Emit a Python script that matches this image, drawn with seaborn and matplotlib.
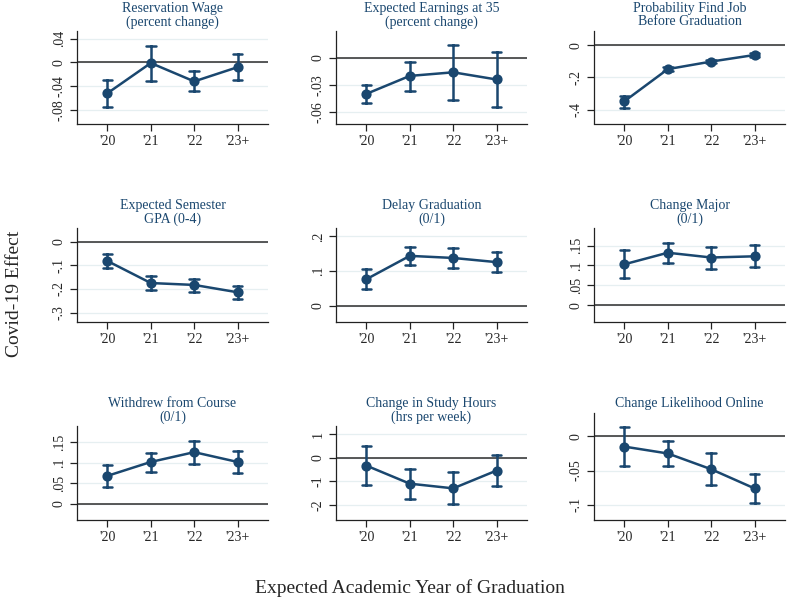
import matplotlib
matplotlib.use("Agg")
import matplotlib.pyplot as plt
import seaborn as sns
import pandas as pd

# x categories
years = ["'20", "'21", "'22", "'23+"]

# panel titles
titles = [
    "Reservation Wage\n(percent change)",
    "Expected Earnings at 35\n(percent change)",
    "Probability Find Job\nBefore Graduation",
    "Expected Semester\nGPA (0-4)",
    "Delay Graduation\n(0/1)",
    "Change Major\n(0/1)",
    "Withdrew from Course\n(0/1)",
    "Change in Study Hours\n(hrs per week)",
    "Change Likelihood Online",
]

# point estimates and 95% CI bounds
wage_est = [-0.052, -0.001, -0.032, -0.008]
wage_lo = [-0.076, -0.031, -0.049, -0.030]
wage_hi = [-0.029, 0.027, -0.015, 0.014]

earn_est = [-0.040, -0.020, -0.016, -0.024]
earn_lo = [-0.050, -0.037, -0.047, -0.055]
earn_hi = [-0.030, -0.004, 0.014, 0.007]

job_est = [-0.349, -0.149, -0.102, -0.061]
job_lo = [-0.389, -0.162, -0.113, -0.071]
job_hi = [-0.314, -0.137, -0.092, -0.051]

gpa_est = [-0.082, -0.175, -0.183, -0.214]
gpa_lo = [-0.110, -0.203, -0.211, -0.242]
gpa_hi = [-0.053, -0.146, -0.156, -0.186]

delay_est = [0.077, 0.144, 0.138, 0.126]
delay_lo = [0.048, 0.117, 0.109, 0.098]
delay_hi = [0.105, 0.170, 0.167, 0.154]

major_est = [0.103, 0.132, 0.120, 0.123]
major_lo = [0.069, 0.106, 0.092, 0.095]
major_hi = [0.138, 0.157, 0.147, 0.152]

withdrew_est = [0.068, 0.102, 0.126, 0.102]
withdrew_lo = [0.040, 0.078, 0.098, 0.075]
withdrew_hi = [0.095, 0.125, 0.153, 0.128]

hours_est = [-0.33, -1.10, -1.30, -0.54]
hours_lo = [-1.17, -1.75, -1.98, -1.22]
hours_hi = [0.51, -0.47, -0.61, 0.14]

online_est = [-0.015, -0.025, -0.048, -0.076]
online_lo = [-0.043, -0.043, -0.071, -0.097]
online_hi = [0.013, -0.007, -0.024, -0.055]

# y ticks and labels per panel
yticks = [
    [-0.08, -0.04, 0, 0.04],
    [-0.06, -0.03, 0],
    [-0.4, -0.2, 0],
    [-0.3, -0.2, -0.1, 0],
    [0, 0.1, 0.2],
    [0, 0.05, 0.1, 0.15],
    [0, 0.05, 0.1, 0.15],
    [-2, -1, 0, 1],
    [-0.1, -0.05, 0],
]
ytick_labels = [
    ["-.08", "-.04", "0", ".04"],
    ["-.06", "-.03", "0"],
    ["-.4", "-.2", "0"],
    ["-.3", "-.2", "-.1", "0"],
    ["0", ".1", ".2"],
    ["0", ".05", ".1", ".15"],
    ["0", ".05", ".1", ".15"],
    ["-2", "-1", "0", "1"],
    ["-.1", "-.05", "0"],
]
ylims = [
    (-0.103, 0.053), (-0.073, 0.030), (-0.487, 0.088),
    (-0.338, 0.057), (-0.045, 0.224), (-0.041, 0.194),
    (-0.040, 0.190), (-2.65, 1.36), (-0.122, 0.034),
]

NAVY = "#1a476f"

def main():
    sns.set_style("white")
    plt.rcParams["font.family"] = ["Liberation Serif", "DejaVu Serif"]

    fig = plt.figure(figsize=(7.87, 6.0), dpi=100)
    W, H = 787.0, 600.0

    panels = [
        (wage_est, wage_lo, wage_hi), (earn_est, earn_lo, earn_hi), (job_est, job_lo, job_hi),
        (gpa_est, gpa_lo, gpa_hi), (delay_est, delay_lo, delay_hi), (major_est, major_lo, major_hi),
        (withdrew_est, withdrew_lo, withdrew_hi), (hours_est, hours_lo, hours_hi),
        (online_est, online_lo, online_hi),
    ]

    lefts = [77, 336, 594]
    width = 191
    tops = [31, 228, 426]
    bottoms = [123.5, 321.7, 520]

    for i, (est, lo, hi) in enumerate(panels):
        r, c = divmod(i, 3)
        top = tops[r]
        if i == 8:
            top = 413
        ax = fig.add_axes([lefts[c] / W, 1 - bottoms[r] / H,
                           width / W, (bottoms[r] - top) / H])

        # long table: each category holds lo, est, hi -> median = est, full range = CI
        df = pd.DataFrame({
            "year": years * 3,
            "value": list(lo) + list(est) + list(hi),
        })
        ax.yaxis.grid(True, color="#e6eff1", linewidth=0.9, zorder=0)
        ax.set_axisbelow(True)
        ax.axhline(0, color="#3c3c3c", linewidth=1.2, zorder=1)
        sns.pointplot(data=df, x="year", y="value", order=years,
                      estimator="median", errorbar=("pi", 100),
                      color=NAVY, markers="o", markersize=6,
                      linewidth=1.8, capsize=0.22,
                      err_kws={"linewidth": 1.8}, ax=ax, zorder=3)

        ax.set_xlim(-0.7, 3.7)
        ax.set_ylim(*ylims[i])
        ax.set_yticks(yticks[i])
        ax.set_yticklabels(ytick_labels[i], rotation=90, va="center")
        ax.set_xlabel("")
        ax.set_ylabel("")
        ax.set_title(titles[i], color=NAVY, fontsize=10, pad=4, linespacing=1.0)

        for side in ["top", "right"]:
            ax.spines[side].set_visible(False)
        for side in ["left", "bottom"]:
            ax.spines[side].set_color("#222222")
            ax.spines[side].set_linewidth(0.9)
        ax.tick_params(axis="both", which="both", direction="out", length=5,
                       width=0.9, color="#222222", labelsize=10, pad=3,
                       left=True, bottom=True)

    fig.text(0.018, 0.51, "Covid-19 Effect", rotation=90, ha="center", va="center",
             fontsize=14)
    fig.text(0.521, 0.02, "Expected Academic Year of Graduation", ha="center",
             va="center", fontsize=14)

    fig.savefig("out.png", dpi=100)
    plt.close(fig)

if __name__ == "__main__":
    main()
